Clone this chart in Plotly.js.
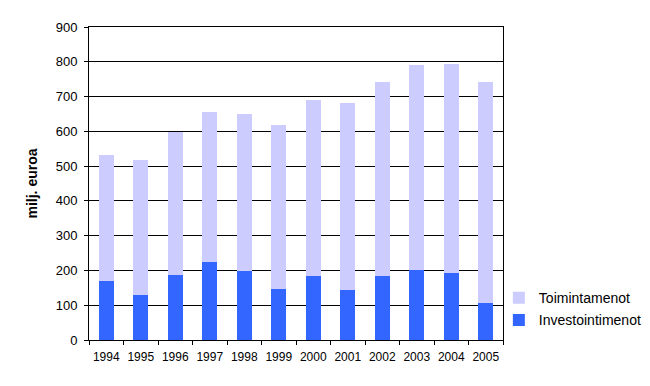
<!DOCTYPE html>
<html>
<head>
<meta charset="utf-8">
<script src="https://cdn.plot.ly/plotly-3.0.1.min.js"></script>
<style>html,body{margin:0;padding:0;background:#fff;}#chart{width:650px;height:386px;}</style>
</head>
<body>
<div id="chart"></div>
<script>
var years = ['1994','1995','1996','1997','1998','1999','2000','2001','2002','2003','2004','2005'];
var investointimenot = [170, 129, 187, 224, 198, 147, 184, 144, 184, 201, 193, 106];
var toimintamenot = [362, 389, 412, 431, 452, 471, 506, 537, 558, 590, 601, 636];

var traces = [
  {type: 'bar', name: 'Investointimenot', x: years, y: investointimenot,
   marker: {color: '#3366FF'}, legendgroup: 'a', legendrank: 2, hoverinfo: 'x+y'},
  {type: 'bar', name: 'Toimintamenot', x: years, y: toimintamenot,
   marker: {color: '#CCCCFF'}, legendgroup: 'b', legendrank: 1, hoverinfo: 'x+y'}
];

var layout = {
  width: 650, height: 386,
  margin: {l: 89, r: 147, t: 27, b: 46, pad: 0, autoexpand: false},
  paper_bgcolor: '#fff', plot_bgcolor: '#fff',
  barmode: 'stack', bargap: 0.57,
  font: {family: 'Arial, "Liberation Sans", sans-serif', color: '#000', size: 13},
  xaxis: {
    type: 'category', showline: true, linecolor: '#000', linewidth: 1, mirror: true,
    ticks: 'outside', tickson: 'boundaries', ticklen: 4, tickcolor: '#000',
    showgrid: false, tickfont: {size: 12}, tickangle: 0, zeroline: false,
    ticklabelstandoff: 6
  },
  yaxis: {
    range: [0, 900], dtick: 100, showline: true, linecolor: '#000', linewidth: 1, mirror: true,
    ticks: 'outside', ticklen: 4, tickcolor: '#000', gridcolor: '#000', gridwidth: 1,
    tickfont: {size: 13}, zeroline: false, ticklabelstandoff: 4,
    title: {text: 'milj. euroa', font: {size: 14, weight: 'bold'}, standoff: 14}
  },
  legend: {
    x: 0.99, xanchor: 'left', y: 0.185, yanchor: 'top', traceorder: 'grouped',
    tracegroupgap: 1, font: {size: 14}, bgcolor: 'rgba(0,0,0,0)'
  },
  showlegend: true
};

Plotly.newPlot('chart', traces, layout, {displayModeBar: false, staticPlot: true});
</script>
</body>
</html>
